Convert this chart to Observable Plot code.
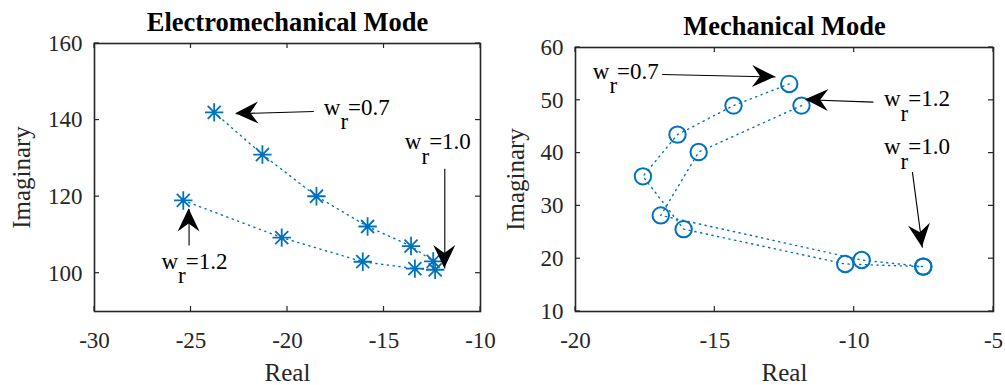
<!DOCTYPE html>
<html><head><meta charset="utf-8">
<script src="https://cdn.jsdelivr.net/npm/d3@7"></script>
<script src="https://cdn.jsdelivr.net/npm/@observablehq/plot@0.6"></script>
<style>
body{margin:0;background:#fff;}
#wrap{display:flex;width:1005px;height:385px;overflow:hidden;}
svg text{font-family:'Liberation Serif','Times New Roman',serif;}
</style></head><body><div id="wrap"></div>
<script>
// ---- Electromechanical mode (left) ----
const emTitle = "Electromechanical Mode";
const emReal1 = [-23.8, -21.3, -18.5, -15.85, -13.6, -12.45];
const emImag1 = [142, 131, 120.1, 112.2, 107.1, 103.1];
const emReal2 = [-25.4, -20.3, -16.1, -13.4, -12.35];
const emImag2 = [119, 109.3, 103, 101.2, 100.9];
const emXTicks = [-30, -25, -20, -15, -10];
const emYTicks = [100, 120, 140, 160];
const emLabels = ["w_r=0.7", "w_r=1.0", "w_r=1.2"];
const emLabelX = [-18.12, -13.92, -26.53];
const emLabelY = [143.3, 134.26, 103.1];
const emArrowX1 = [-18.64, -11.85, -25.1];
const emArrowY1 = [142.25, 127.3, 107.26];
const emArrowX2 = [-22.68, -11.85, -25.1];
const emArrowY2 = [141.65, 101.2, 116.8];

// ---- Mechanical mode (right) ----
const mTitle = "Mechanical Mode";
const mReal1 = [-12.33, -14.33, -16.34, -17.58, -16.12, -10.32, -7.52];
const mImag1 = [53.1, 49, 43.5, 35.6, 25.6, 19, 18.5];
const mReal2 = [-11.89, -15.58, -16.94, -9.73, -7.52];
const mImag2 = [49, 40.2, 28.2, 19.75, 18.5];
const mXTicks = [-20, -15, -10, -5];
const mYTicks = [10, 20, 30, 40, 50, 60];
const mLabels = ["w_r=0.7", "w_r=1.2", "w_r=1.0"];
const mLabelX = [-19.38, -8.93, -8.93];
const mLabelY = [55.5, 50.25, 41.14];
const mArrowX1 = [-16.89, -9.31, -7.91];
const mArrowY1 = [54.9, 49.66, 36.4];
const mArrowX2 = [-12.82, -11.74, -7.55];
const mArrowY2 = [54.4, 50.1, 22.1];

const BLUE = "#0072BD";
const INK = "#262626";
const SERIF = "'Liberation Serif', 'Times New Roman', serif";

const asterisk = {
  draw(ctx, size) {
    const r = Math.sqrt(size / Math.PI), d = r * Math.SQRT1_2;
    ctx.moveTo(-r, 0); ctx.lineTo(r, 0);
    ctx.moveTo(0, -r); ctx.lineTo(0, r);
    ctx.moveTo(-d, -d); ctx.lineTo(d, d);
    ctx.moveTo(-d, d); ctx.lineTo(d, -d);
  }
};

function zipPts(xs, ys) { return xs.map((x, i) => ({x, y: ys[i]})); }

function arrowHeads(x1s, y1s, x2s, y2s) {
  return (index, scales) => {
    const g = d3.create("svg:g");
    for (let i = 0; i < x1s.length; i++) {
      const ax = scales.x(x1s[i]), ay = scales.y(y1s[i]);
      const bx = scales.x(x2s[i]), by = scales.y(y2s[i]);
      const a = Math.atan2(by - ay, bx - ax), c = Math.cos(a), s = Math.sin(a);
      const L = 23, W = 11, N = 15;
      const pts = [[0, 0], [-L, -W], [-N, 0], [-L, W]].map(([u, v]) => [bx + u * c - v * s, by + u * s + v * c]);
      g.append("path").attr("d", "M" + pts.map(p => p.join(",")).join("L") + "Z").attr("fill", "#000");
    }
    return g.node();
  };
}

function inTicks(xt, yt, len) {
  return (index, scales, values, dims) => {
    const l = dims.marginLeft, r = dims.width - dims.marginRight, t = dims.marginTop, b = dims.height - dims.marginBottom;
    const g = d3.create("svg:g").attr("stroke", INK).attr("stroke-width", 1.2);
    for (const v of xt) {
      const x = scales.x(v);
      g.append("line").attr("x1", x).attr("x2", x).attr("y1", b).attr("y2", b - len);
      g.append("line").attr("x1", x).attr("x2", x).attr("y1", t).attr("y2", t + len);
    }
    for (const v of yt) {
      const y = scales.y(v);
      g.append("line").attr("y1", y).attr("y2", y).attr("x1", l).attr("x2", l + len);
      g.append("line").attr("y1", y).attr("y2", y).attr("x1", r).attr("x2", r - len);
    }
    return g.node();
  };
}

function subRender(index, scales, values, dims, ctx, next) {
  const g = next(index, scales, values, dims, ctx);
  d3.select(g).selectAll("text").each(function () {
    const m = this.textContent.match(/^(.*)_(.)(.*)$/);
    if (!m) return;
    const t = d3.select(this); t.text(null);
    t.append("tspan").text(m[1]);
    t.append("tspan").attr("dy", "0.62em").text(m[2]);
    t.append("tspan").attr("dy", "-0.62em").text(m[3]);
  });
  return g;
}

function panel(cfg) {
  const s1 = zipPts(cfg.r1, cfg.i1), s2 = zipPts(cfg.r2, cfg.i2);
  const arrows = cfg.ax1.map((x1, i) => ({x1, y1: cfg.ay1[i], x2: cfg.ax2[i], y2: cfg.ay2[i]}));
  const labels = cfg.labels.map((t, i) => ({t, x: cfg.lx[i], y: cfg.ly[i]}));
  const marker = cfg.circle
    ? {symbol: "circle", r: 8.2, fill: "none", stroke: BLUE, strokeWidth: 2}
    : {symbol: asterisk, r: 9.2, fill: "none", stroke: BLUE, strokeWidth: 1.8};
  const dotted = {stroke: BLUE, strokeWidth: 1.4, strokeDasharray: "1.2,4.6"};
  return Plot.plot({
    width: cfg.width, height: 385,
    marginLeft: cfg.ml, marginRight: cfg.mr, marginTop: cfg.mt, marginBottom: cfg.mb,
    style: {fontFamily: SERIF, fontSize: "23px", color: INK, background: "white", overflow: "visible"},
    x: {domain: cfg.xd, label: null},
    y: {domain: cfg.yd, label: null},
    marks: [
      Plot.line(s1, {x: "x", y: "y", ...dotted}),
      Plot.line(s2, {x: "x", y: "y", ...dotted}),
      Plot.dot(s1, {x: "x", y: "y", ...marker}),
      Plot.dot(s2, {x: "x", y: "y", ...marker}),
      Plot.link(arrows, {x1: "x1", y1: "y1", x2: "x2", y2: "y2", stroke: "#000", strokeWidth: 1.1}),
      arrowHeads(cfg.ax1, cfg.ay1, cfg.ax2, cfg.ay2),
      Plot.text(labels, {x: "x", y: "y", text: "t", textAnchor: "start", lineAnchor: "middle", fill: "#000", fontSize: 23, fontFamily: SERIF, render: subRender}),
      Plot.frame({stroke: INK, strokeWidth: 1.6}),
      inTicks(cfg.xt, cfg.yt, 5),
      Plot.axisX(cfg.xt, {tickSize: 0, tickPadding: 20, tickFormat: d => String(d), label: null, fill: INK, fontFamily: SERIF, fontSize: 23}),
      Plot.axisY(cfg.yt, {tickSize: 0, tickPadding: 12, tickFormat: d => String(d), label: null, fill: INK, fontFamily: SERIF, fontSize: 23}),
      Plot.text([cfg.title], {frameAnchor: "top", lineAnchor: "middle", textAnchor: "middle", dy: -21, fontWeight: "bold", fontSize: 26.5, fontFamily: SERIF, fill: "#000"}),
      Plot.text(["Real"], {frameAnchor: "bottom", lineAnchor: "middle", textAnchor: "middle", dy: 61, fontSize: 25, fontFamily: SERIF, fill: INK}),
      Plot.text(["Imaginary"], {frameAnchor: "left", lineAnchor: "middle", textAnchor: "middle", dx: cfg.ylabDx, rotate: -90, fontSize: 25, fontFamily: SERIF, fill: INK})
    ]
  });
}

const wrap = document.getElementById("wrap");
wrap.append(panel({
  width: 502, ml: 94, mr: 22, mt: 43, mb: 74,
  xd: [-30, -10], yd: [90, 160], xt: emXTicks, yt: emYTicks,
  r1: emReal1, i1: emImag1, r2: emReal2, i2: emImag2,
  labels: emLabels, lx: emLabelX, ly: emLabelY,
  ax1: emArrowX1, ay1: emArrowY1, ax2: emArrowX2, ay2: emArrowY2,
  title: emTitle, circle: false, ylabDx: -72.5
}));
wrap.append(panel({
  width: 503, ml: 73, mr: 12, mt: 47, mb: 74,
  xd: [-20, -5], yd: [10, 60], xt: mXTicks, yt: mYTicks,
  r1: mReal1, i1: mImag1, r2: mReal2, i2: mImag2,
  labels: mLabels, lx: mLabelX, ly: mLabelY,
  ax1: mArrowX1, ay1: mArrowY1, ax2: mArrowX2, ay2: mArrowY2,
  title: mTitle, circle: true, ylabDx: -60
}));
</script>
</body></html>
